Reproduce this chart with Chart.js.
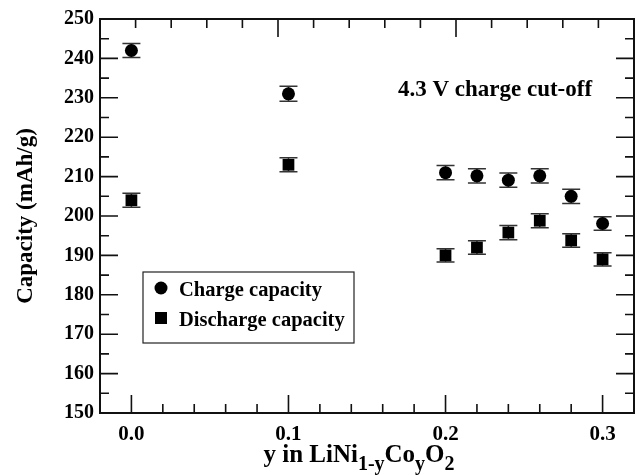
<!DOCTYPE html>
<html>
<head>
<meta charset="utf-8">
<script src="https://cdn.jsdelivr.net/npm/chart.js@4.4.1/dist/chart.umd.min.js"></script>
<style>
  html, body { margin: 0; padding: 0; background: #fff; }
  #wrap { width: 644px; height: 475px; }
</style>
</head>
<body>
<div id="wrap"><canvas id="chart" width="644" height="475"></canvas></div>
<script>
// values
const xValues = [0, 0.1, 0.2, 0.22, 0.24, 0.26, 0.28, 0.3];
const chargeCapacity = [242, 231, 211, 210.2, 209.1, 210.2, 205, 198.1];
const dischargeCapacity = [204, 213, 190, 192, 195.8, 198.8, 193.8, 189];
const chargeError = [1.8, 1.9, 1.8, 1.8, 1.8, 1.8, 1.8, 1.7];
const dischargeError = [1.8, 1.8, 1.7, 1.7, 1.8, 1.8, 1.7, 1.7];

const xTickValues = [0, 0.1, 0.2, 0.3];
const yTickValues = [150, 160, 170, 180, 190, 200, 210, 220, 230, 240, 250];
const seriesLabels = ['Charge capacity', 'Discharge capacity'];
const annotationText = '4.3 V charge cut-off';

const FONT = "'Liberation Serif', 'Times New Roman', serif";

function points(ys) {
  return xValues.map((x, i) => ({ x: x, y: ys[i] }));
}

// inward ticks on all four sides, plus the frame
const frameTicks = {
  id: 'frameTicks',
  afterDraw(chart) {
    const { ctx, chartArea: a, scales } = chart;
    const x = scales.x, y = scales.y, top = scales.xTop;
    ctx.save();
    ctx.strokeStyle = '#111';
    ctx.lineWidth = 1.6;
    ctx.beginPath();
    for (let v = 155; v < 250; v += 5) {
      const py = y.getPixelForValue(v);
      const len = v % 10 === 0 ? 18 : 9;
      ctx.moveTo(a.left, py); ctx.lineTo(a.left + len, py);
      ctx.moveTo(a.right, py); ctx.lineTo(a.right - len, py);
    }
    for (let k = 0; k <= 15; k++) {
      const v = k * 0.02;
      const px = x.getPixelForValue(v);
      const len = k % 5 === 0 ? 18 : 9;
      ctx.moveTo(px, a.bottom); ctx.lineTo(px, a.bottom - len);
    }
    for (let u = 1; u <= 14; u++) {
      const px = top.getPixelForValue(u);
      const len = u % 5 === 0 ? 18 : 9;
      ctx.moveTo(px, a.top); ctx.lineTo(px, a.top + len);
    }
    ctx.stroke();
    ctx.lineWidth = 2;
    ctx.strokeRect(a.left, a.top, a.right - a.left, a.bottom - a.top);
    ctx.restore();
  }
};

// error bars under the markers
const errorBars = {
  id: 'errorBars',
  beforeDatasetsDraw(chart) {
    const { ctx, scales } = chart;
    const errs = [chargeError, dischargeError];
    ctx.save();
    ctx.strokeStyle = '#333';
    ctx.lineWidth = 1.5;
    chart.data.datasets.forEach((ds, di) => {
      ds.data.forEach((p, i) => {
        const px = scales.x.getPixelForValue(p.x);
        const lo = scales.y.getPixelForValue(p.y - errs[di][i]);
        const hi = scales.y.getPixelForValue(p.y + errs[di][i]);
        ctx.beginPath();
        ctx.moveTo(px, lo); ctx.lineTo(px, hi);
        ctx.moveTo(px - 9, lo); ctx.lineTo(px + 9, lo);
        ctx.moveTo(px - 9, hi); ctx.lineTo(px + 9, hi);
        ctx.stroke();
      });
    });
    ctx.restore();
  }
};

// boxed legend, annotation and x title with subscripts
const decorations = {
  id: 'decorations',
  afterDraw(chart) {
    const { ctx, chartArea: a } = chart;
    ctx.save();
    // legend box
    const bx = a.left + 43, by = 272, bw = 211, bh = 71;
    ctx.fillStyle = '#fff';
    ctx.fillRect(bx, by, bw, bh);
    ctx.strokeStyle = '#222';
    ctx.lineWidth = 1.2;
    ctx.strokeRect(bx, by, bw, bh);
    ctx.fillStyle = '#000';
    ctx.beginPath();
    ctx.arc(bx + 18, by + 16, 6.5, 0, Math.PI * 2);
    ctx.fill();
    ctx.fillRect(bx + 12, by + 40, 12, 12);
    ctx.font = 'bold 20.5px ' + FONT;
    ctx.textBaseline = 'alphabetic';
    ctx.textAlign = 'left';
    ctx.fillText(seriesLabels[0], bx + 36, by + 24);
    ctx.fillText(seriesLabels[1], bx + 36, by + 54);

    // annotation
    ctx.textAlign = 'center';
    ctx.font = 'bold 23px ' + FONT;
    ctx.fillText(annotationText, 495, 96);

    // x axis title: y in LiNi(1-y)Co(y)O(2)
    const parts = [
      ['y in LiNi', false], ['1-y', true], ['Co', false], ['y', true], ['O', false], ['2', true]
    ];
    const big = 'bold 25px ' + FONT, small = 'bold 20px ' + FONT;
    let total = 0;
    parts.forEach(p => { ctx.font = p[1] ? small : big; total += ctx.measureText(p[0]).width; });
    let cx = 359 - total / 2;
    ctx.textAlign = 'left';
    parts.forEach(p => {
      ctx.font = p[1] ? small : big;
      ctx.fillText(p[0], cx, p[1] ? 470 : 462);
      cx += ctx.measureText(p[0]).width;
    });
    ctx.restore();
  }
};

new Chart(document.getElementById('chart'), {
  type: 'scatter',
  data: {
    datasets: [
      {
        label: seriesLabels[0],
        data: points(chargeCapacity),
        pointStyle: 'circle',
        pointRadius: 6.5,
        backgroundColor: '#000',
        borderColor: '#000',
        borderWidth: 0
      },
      {
        label: seriesLabels[1],
        data: points(dischargeCapacity),
        pointStyle: 'rect',
        pointRadius: 8.3,
        backgroundColor: '#000',
        borderColor: '#000',
        borderWidth: 0
      }
    ]
  },
  options: {
    responsive: false,
    animation: false,
    layout: { padding: { top: 19, right: 10, left: 0, bottom: 0 } },
    plugins: {
      legend: { display: false },
      tooltip: { enabled: false }
    },
    scales: {
      x: {
        type: 'linear',
        min: -0.02,
        max: 0.32,
        afterBuildTicks: s => { s.ticks = xTickValues.map(v => ({ value: v })); },
        afterFit: s => { s.height = 62; },
        grid: { display: false, drawTicks: false },
        border: { display: false },
        ticks: {
          padding: 9,
          color: '#000',
          font: { family: FONT, size: 21, weight: 'bold' },
          callback: v => Number(v).toFixed(1)
        }
      },
      xTop: {
        type: 'linear',
        position: 'top',
        min: 0,
        max: 15,
        display: false
      },
      y: {
        min: 150,
        max: 250,
        afterBuildTicks: s => { s.ticks = yTickValues.map(v => ({ value: v })); },
        afterFit: s => { s.width = 100; },
        grid: { display: false, drawTicks: false },
        border: { display: false },
        ticks: {
          padding: 6,
          color: '#000',
          font: { family: FONT, size: 20, weight: 'bold' }
        },
        title: {
          display: true,
          text: 'Capacity (mAh/g)',
          color: '#000',
          font: { family: FONT, size: 23, weight: 'bold' },
          padding: { top: 12, bottom: 0 }
        }
      }
    }
  },
  plugins: [errorBars, frameTicks, decorations]
});
</script>
</body>
</html>
